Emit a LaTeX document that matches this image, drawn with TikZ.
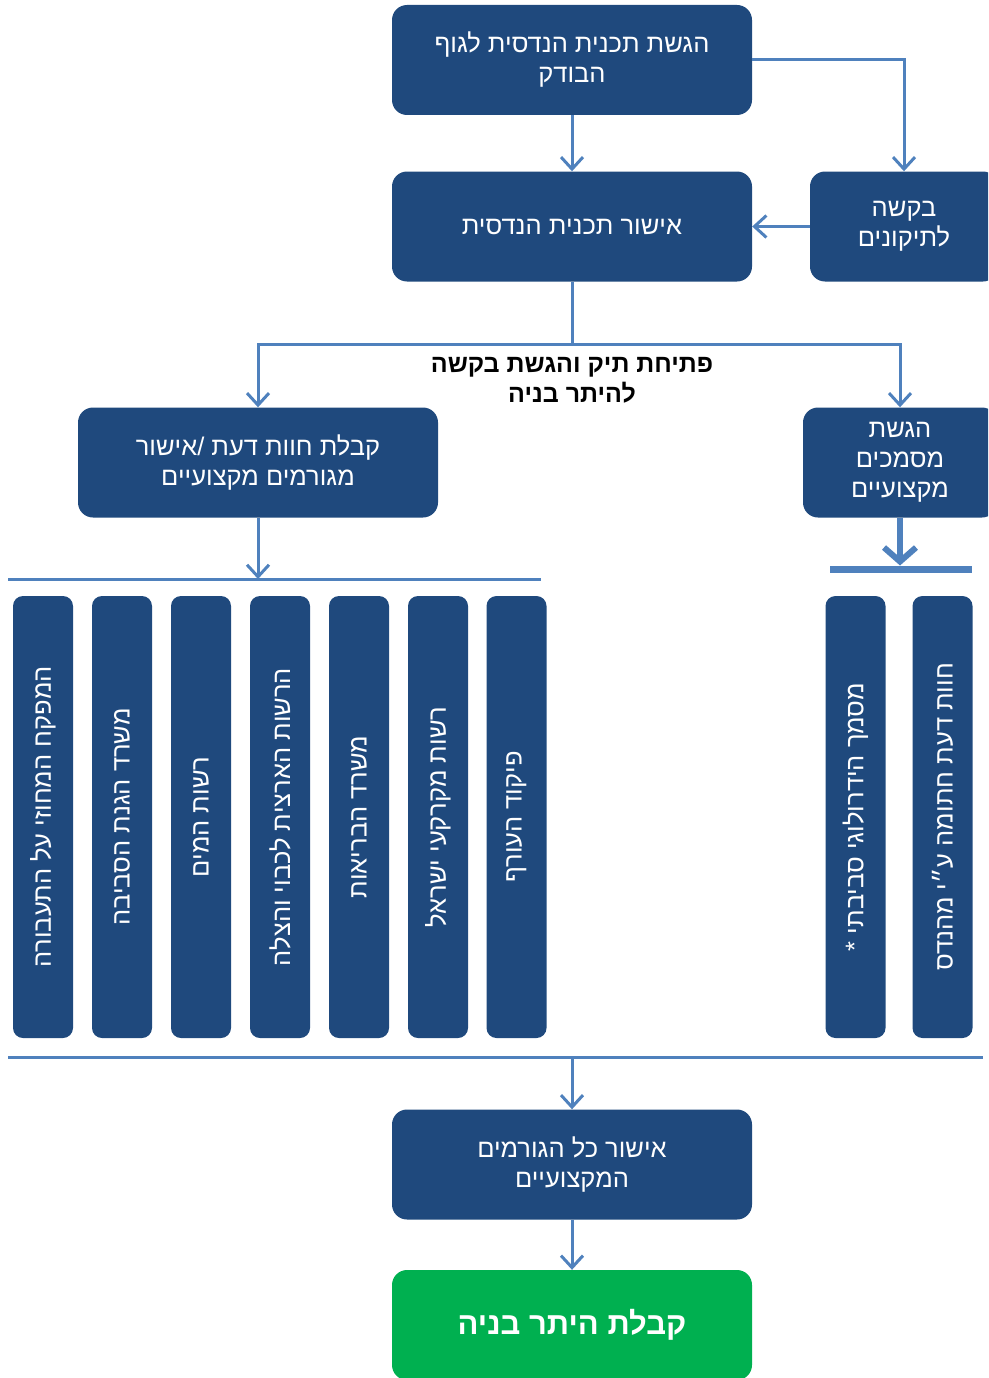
\documentclass[tikz,border=0pt]{standalone}
\usepackage{fontspec}
\usetikzlibrary{arrows.meta}
\setmainfont{Liberation Sans}
\newfontfamily\hebfont[Script=Hebrew]{Liberation Sans}
\TeXXeTstate=1
\newcommand{\hebtxt}[1]{\beginR #1\endR}
\definecolor{boxblue}{RGB}{31,73,125}
\definecolor{lineblue}{RGB}{79,129,189}
\definecolor{boxgreen}{RGB}{0,176,80}

\begin{document}
\begin{tikzpicture}[x=1pt,y=-1pt,
    box/.style={fill=boxblue,rounded corners=15pt,text=white,align=center,
        minimum width=360pt,minimum height=110pt,font=\hebfont\fontsize{25.5}{30}\selectfont},
    organ/.style={fill=boxblue,rounded corners=10pt,text=white,rotate=90,
        minimum width=442pt,minimum height=60pt,font=\hebfont\fontsize{25.5}{30}\selectfont},
    link/.style={draw=lineblue,line width=3pt},
    arr/.style={link,-{Straight Barb[length=12pt,width=22pt]}}]
    \useasboundingbox (0,0) rectangle (988,1378);
    \clip (0,0) rectangle (988,1378);
    % upper part
    \node[box] (submit) at (572,60) {\hebtxt{הגשת תכנית הנדסית לגוף}\\\hebtxt{הבודק}};
    \node[box] (approve) at (572,226.5) {\hebtxt{אישור תכנית הנדסית}};
    \node[box,minimum width=188pt] (fixes) at (904,226.5) {\hebtxt{בקשה}\\\hebtxt{לתיקונים}};
    \draw[arr] (submit) -- (approve);
    \draw[arr] (submit.east) -| (fixes.north);
    \draw[arr] (fixes) -- (approve);
    % request
    \coordinate (split) at (572,344);
    \draw[link] (approve) -- (split);
    \node[box] (opinion) at (258,462.5) {\hebtxt{קבלת חוות דעת /אישור}\\\hebtxt{מגורמים מקצועיים}};
    \node[box,minimum width=194pt] (docs) at (900,462.5) {\hebtxt{הגשת}\\\hebtxt{מסמכים}\\\hebtxt{מקצועיים}};
    \draw[arr] (split) -| (opinion.north);
    \draw[arr] (split) -| (docs.north);
    \node[align=center,font=\hebfont\bfseries\fontsize{25}{30}\selectfont] (req) at (572,380)
        {\hebtxt{פתיחת תיק והגשת בקשה}\\\hebtxt{להיתר בניה}};
    % bodies
    \coordinate (busL) at (8,579); \coordinate (busR) at (541,579);
    \draw[link] (busL) -- (busR);
    \draw[arr] (opinion) -- (opinion |- busL);
    \coordinate (barL) at (830,569); \coordinate (barR) at (972,569);
    \draw[link,line width=7pt] (barL) -- (barR);
    \draw[link,line width=6pt,-{Straight Barb[length=14pt,width=32pt]},shorten >=3.5pt]
        (docs.south) -- (docs.south |- barL);
    \foreach \x/\t [count=\i] in {43/{המפקח המחוזי על התעבורה},122/{משרד הגנת הסביבה},
        201/{רשות המים},280/{הרשות הארצית לכבוי והצלה},359/{משרד הבריאות},
        438/{רשות מקרקעי ישראל},516.5/{פיקוד העורף},
        855.5/{מסמך הידרולוגי סביבתי *},942.5/{חוות דעת חתומה ע״י מהנדס}}
        \node[organ] (org\i) at (\x,817) {\hebtxt{\t}};
    % lower part
    \coordinate (mergeL) at (8,1057); \coordinate (mergeR) at (983,1057);
    \coordinate (merge) at (572,1057);
    \draw[link] (mergeL) -- (mergeR);
    \node[box] (allok) at (572,1164.5) {\hebtxt{אישור כל הגורמים}\\\hebtxt{המקצועיים}};
    \node[box,fill=boxgreen,font=\hebfont\bfseries\fontsize{31}{36}\selectfont] (permit) at (572,1325)
        {\hebtxt{קבלת היתר בניה}};
    \draw[arr] (merge) -- (allok);
    \draw[arr] (allok) -- (permit);
\end{tikzpicture}
\end{document}
